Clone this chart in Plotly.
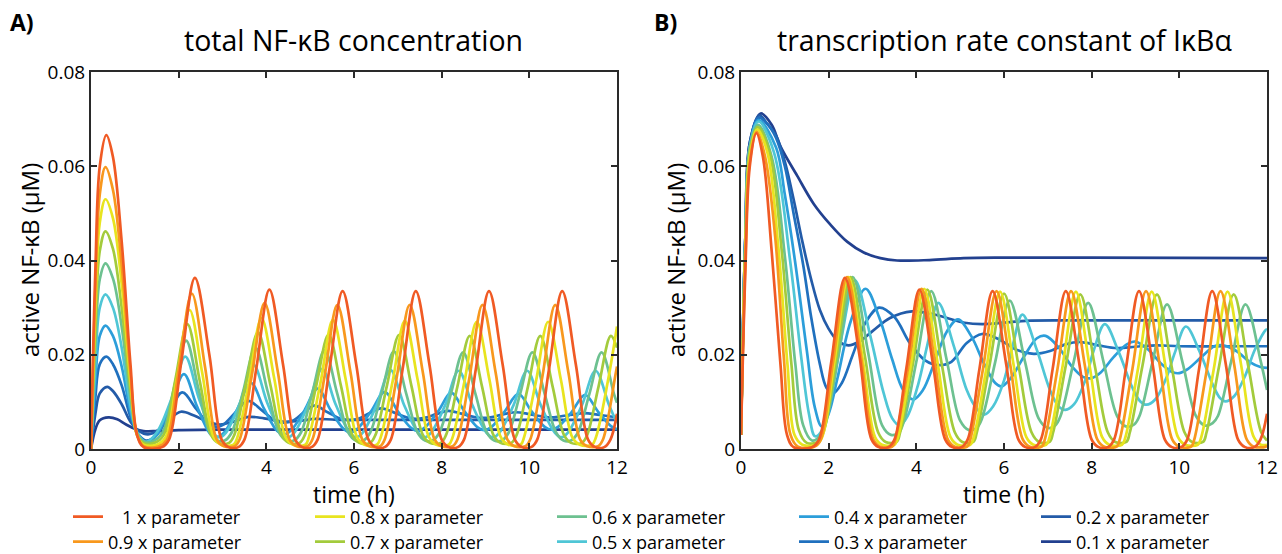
import plotly.graph_objects as go

# ---------------- legend / series definitions ----------------
param_labels = ["\u00a0\u00a0\u00a01 x parameter", "0.9 x parameter", "0.8 x parameter", "0.7 x parameter",
                "0.6 x parameter", "0.5 x parameter", "0.4 x parameter", "0.3 x parameter",
                "0.2 x parameter", "0.1 x parameter"]
param_colors = ["#F05A24", "#F8981D", "#E8E41F", "#A3CB3C", "#6DC190", "#4FC6D6",
                "#2C9EDA", "#2070BE", "#235BA8", "#22408F"]
legend_rows = ["legend", "legend2", "legend", "legend2", "legend", "legend2", "legend", "legend2", "legend", "legend2"]
legend_ranks = [1, 1, 2, 2, 3, 3, 4, 4, 5, 5]

# ---------------- Panel A: total NF-kB concentration ----------------
tA_10 = [0, 0.1, 0.2, 0.35, 0.5, 0.7, 0.9, 1.05, 1.2, 1.62,
         1.78, 2.06, 2.37, 2.7, 2.98, 3.14, 3.36,
         3.5, 3.77, 4.07, 4.38, 4.66, 4.82, 5.03,
         5.17, 5.44, 5.74, 6.05, 6.33, 6.49, 6.7,
         6.84, 7.11, 7.41, 7.72, 8.0, 8.16, 8.37,
         8.51, 8.78, 9.08, 9.39, 9.67, 9.83, 10.04,
         10.18, 10.45, 10.75, 11.06, 11.34, 11.5, 11.71,
         11.85, 12.0]
yA_10 = [0, 0.038, 0.060, 0.0666, 0.062, 0.044, 0.018, 0.003, 0.0004, 0.0004,
         0.002, 0.0185, 0.0363, 0.020, 0.002, 0.0004, 0.0004,
         0.002, 0.017, 0.0338, 0.018, 0.002, 0.0004, 0.0004,
         0.002, 0.017, 0.0335, 0.018, 0.002, 0.0004, 0.0004,
         0.002, 0.017, 0.0335, 0.018, 0.002, 0.0004, 0.0004,
         0.002, 0.017, 0.0335, 0.018, 0.002, 0.0004, 0.0004,
         0.002, 0.017, 0.0335, 0.018, 0.002, 0.0004, 0.0004,
         0.002, 0.0075]

tA_09 = [0, 0.1, 0.2, 0.33, 0.5, 0.7, 0.9, 1.05, 1.2, 1.55,
         1.73, 2.0, 2.30, 2.6, 2.87, 3.03, 3.28,
         3.39, 3.67, 3.96, 4.26, 4.53, 4.69, 4.94,
         5.05, 5.33, 5.62, 5.92, 6.19, 6.35, 6.6,
         6.7, 6.98, 7.27, 7.57, 7.84, 8.0, 8.25,
         8.36, 8.64, 8.93, 9.23, 9.5, 9.66, 9.91,
         10.02, 10.3, 10.59, 10.89, 11.16, 11.32, 11.57,
         11.68, 11.96, 12.0]
yA_09 = [0, 0.034, 0.054, 0.0598, 0.055, 0.039, 0.016, 0.003, 0.0006, 0.0006,
         0.002, 0.0168, 0.033, 0.0175, 0.002, 0.0006, 0.0006,
         0.002, 0.0157, 0.031, 0.0165, 0.002, 0.0006, 0.0006,
         0.002, 0.0155, 0.0306, 0.0163, 0.002, 0.0006, 0.0006,
         0.002, 0.0155, 0.0306, 0.0163, 0.002, 0.0006, 0.0006,
         0.002, 0.0155, 0.0306, 0.0163, 0.002, 0.0006, 0.0006,
         0.002, 0.0155, 0.0306, 0.0163, 0.002, 0.0006, 0.0006,
         0.002, 0.0155, 0.0175]

tA_08 = [0, 0.1, 0.2, 0.33, 0.5, 0.7, 0.9, 1.05, 1.2, 1.5,
         1.7, 1.97, 2.25, 2.54, 2.8, 2.97, 3.25,
         3.34, 3.61, 3.89, 4.18, 4.44, 4.61, 4.89,
         4.97, 5.24, 5.52, 5.81, 6.07, 6.24, 6.52,
         6.61, 6.88, 7.16, 7.45, 7.71, 7.88, 8.16,
         8.25, 8.52, 8.8, 9.09, 9.35, 9.52, 9.8,
         9.88, 10.15, 10.43, 10.72, 10.98, 11.15, 11.43,
         11.52, 11.79, 12.0]
yA_08 = [0, 0.030, 0.048, 0.053, 0.049, 0.035, 0.0145, 0.003, 0.0009, 0.0009,
         0.0025, 0.0155, 0.0295, 0.016, 0.0025, 0.0009, 0.0009,
         0.0025, 0.0145, 0.0278, 0.015, 0.0025, 0.0009, 0.0009,
         0.0025, 0.0143, 0.0274, 0.0148, 0.0025, 0.0009, 0.0009,
         0.0025, 0.0143, 0.0272, 0.0148, 0.0025, 0.0009, 0.0009,
         0.0025, 0.0143, 0.027, 0.0147, 0.0025, 0.0009, 0.0009,
         0.0025, 0.0143, 0.027, 0.0147, 0.0025, 0.0009, 0.0009,
         0.0025, 0.0143, 0.026]

tA_07 = [0, 0.1, 0.2, 0.33, 0.5, 0.7, 0.9, 1.05, 1.2, 1.45,
         1.66, 1.92, 2.2, 2.48, 2.74, 2.9, 3.15,
         3.27, 3.53, 3.81, 4.09, 4.35, 4.51, 4.76,
         4.88, 5.14, 5.42, 5.7, 5.96, 6.12, 6.37,
         6.49, 6.75, 7.03, 7.31, 7.57, 7.73, 7.98,
         8.1, 8.36, 8.64, 8.92, 9.18, 9.34, 9.59,
         9.71, 9.97, 10.25, 10.53, 10.79, 10.95, 11.2,
         11.32, 11.58, 11.86, 12.0]
yA_07 = [0, 0.026, 0.042, 0.0462, 0.0425, 0.030, 0.0127, 0.003, 0.0013, 0.0013,
         0.003, 0.0145, 0.0265, 0.0145, 0.003, 0.0013, 0.0013,
         0.003, 0.0137, 0.0248, 0.0137, 0.003, 0.0013, 0.0013,
         0.003, 0.0135, 0.0243, 0.0135, 0.003, 0.0013, 0.0013,
         0.003, 0.0134, 0.0242, 0.0134, 0.003, 0.0013, 0.0013,
         0.003, 0.0133, 0.024, 0.0133, 0.003, 0.0013, 0.0013,
         0.003, 0.0133, 0.024, 0.0133, 0.003, 0.0013, 0.0013,
         0.003, 0.0133, 0.024, 0.0215]

tA_06 = [0, 0.1, 0.2, 0.33, 0.5, 0.7, 0.9, 1.05, 1.2, 1.4,
         1.63, 1.89, 2.17, 2.45, 2.71, 2.88, 3.05,
         3.21, 3.47, 3.75, 4.03, 4.29, 4.46, 4.63,
         4.79, 5.05, 5.33, 5.61, 5.87, 6.04, 6.21,
         6.37, 6.63, 6.91, 7.19, 7.45, 7.62, 7.79,
         7.95, 8.21, 8.49, 8.77, 9.03, 9.2, 9.37,
         9.53, 9.79, 10.07, 10.35, 10.61, 10.78, 10.95,
         11.11, 11.37, 11.65, 11.93, 12.0]
yA_06 = [0, 0.022, 0.036, 0.0394, 0.0362, 0.026, 0.011, 0.0035, 0.0016, 0.0016,
         0.0035, 0.0128, 0.023, 0.0128, 0.0035, 0.0018, 0.0018,
         0.0035, 0.0122, 0.0215, 0.0122, 0.0035, 0.0018, 0.0018,
         0.0035, 0.012, 0.021, 0.012, 0.0035, 0.0018, 0.0018,
         0.0035, 0.0118, 0.0207, 0.0118, 0.0035, 0.0018, 0.0018,
         0.0035, 0.0117, 0.0205, 0.0117, 0.0035, 0.0018, 0.0018,
         0.0035, 0.0117, 0.0205, 0.0117, 0.0035, 0.0018, 0.0018,
         0.0035, 0.0117, 0.0205, 0.0117, 0.0098]

tA_05 = [0, 0.1, 0.2, 0.33, 0.5, 0.7, 0.9, 1.05, 1.25,
         1.5, 1.83, 2.15, 2.47, 2.78, 2.93,
         3.08, 3.4, 3.71, 4.02, 4.34, 4.49,
         4.64, 4.96, 5.27, 5.58, 5.9, 6.05,
         6.2, 6.52, 6.83, 7.14, 7.46, 7.61,
         7.76, 8.08, 8.39, 8.7, 9.02, 9.17,
         9.32, 9.64, 9.95, 10.26, 10.58, 10.73,
         10.88, 11.2, 11.51, 11.82, 12.0]
yA_05 = [0, 0.018, 0.030, 0.0328, 0.030, 0.0215, 0.0093, 0.0035, 0.0015,
         0.0035, 0.0105, 0.0196, 0.0105, 0.0035, 0.0025,
         0.0035, 0.0098, 0.0178, 0.0098, 0.0035, 0.0025,
         0.0035, 0.0095, 0.017, 0.0095, 0.0035, 0.0025,
         0.0035, 0.0094, 0.0168, 0.0094, 0.0035, 0.0025,
         0.0035, 0.0093, 0.0166, 0.0093, 0.0035, 0.0025,
         0.0035, 0.0093, 0.0166, 0.0093, 0.0035, 0.0025,
         0.0035, 0.0093, 0.0166, 0.0093, 0.0055]

tA_04 = [0, 0.1, 0.2, 0.33, 0.5, 0.7, 0.9, 1.05, 1.25,
         1.5, 1.8, 2.12, 2.42, 2.72, 2.88,
         3.04, 3.34, 3.65, 3.95, 4.25, 4.41,
         4.57, 4.87, 5.17, 5.47, 5.77, 5.93,
         6.09, 6.39, 6.7, 7.0, 7.3, 7.46,
         7.62, 7.92, 8.22, 8.52, 8.82, 8.98,
         9.14, 9.44, 9.75, 10.05, 10.35, 10.51,
         10.67, 10.97, 11.27, 11.57, 11.87, 12.0]
yA_04 = [0, 0.0145, 0.024, 0.0262, 0.024, 0.0175, 0.008, 0.0035, 0.0012,
         0.003, 0.009, 0.0159, 0.009, 0.0032, 0.0025,
         0.0035, 0.0085, 0.014, 0.0085, 0.0038, 0.0031,
         0.004, 0.0082, 0.0128, 0.0082, 0.0042, 0.0035,
         0.0044, 0.008, 0.0121, 0.008, 0.0045, 0.0038,
         0.0046, 0.008, 0.0119, 0.008, 0.0046, 0.004,
         0.0047, 0.008, 0.0117, 0.008, 0.0047, 0.0041,
         0.0048, 0.0079, 0.0115, 0.0079, 0.0048, 0.0042]

tA_03 = [0, 0.1, 0.2, 0.35, 0.5, 0.7, 0.9, 1.05, 1.25, 1.5,
         1.78, 2.08, 2.4, 2.7, 2.88, 3.05, 3.3, 3.58, 3.9, 4.2,
         4.4, 4.6, 4.85, 5.1, 5.4, 5.7, 5.9, 6.1, 6.35, 6.62,
         6.95, 7.25, 7.42, 7.6, 7.88, 8.15, 8.45, 8.75, 8.95, 9.15,
         9.42, 9.7, 10.0, 10.3, 10.5, 10.7, 10.98, 11.25, 11.55, 11.85,
         12.0]
yA_03 = [0, 0.011, 0.018, 0.0196, 0.018, 0.0135, 0.0068, 0.0035, 0.0018, 0.003,
         0.0075, 0.012, 0.0085, 0.0052, 0.0047, 0.0054, 0.0078, 0.0102, 0.0082, 0.006,
         0.0056, 0.006, 0.0077, 0.0092, 0.0078, 0.0064, 0.0061, 0.0064, 0.0076, 0.0086,
         0.0076, 0.0066, 0.0064, 0.0066, 0.0074, 0.0081, 0.0075, 0.0068, 0.0066, 0.0068,
         0.0074, 0.0078, 0.0074, 0.0069, 0.0067, 0.0069, 0.0073, 0.0076, 0.0073, 0.0069,
         0.0068]

tA_02 = [0, 0.1, 0.2, 0.37, 0.5, 0.7, 0.9, 1.1, 1.3, 1.55, 1.8, 2.05, 2.35,
         2.7, 2.95, 3.25, 3.6, 3.95, 4.4, 4.8, 5.1, 5.6, 6.5, 8, 10, 12]
yA_02 = [0, 0.0075, 0.0118, 0.0132, 0.0123, 0.0095, 0.0058, 0.0038, 0.0031, 0.0041, 0.0064, 0.0079, 0.0071,
         0.0056, 0.0052, 0.0058, 0.0068, 0.0065, 0.0058, 0.006, 0.0064, 0.0062, 0.0062, 0.0062, 0.0062, 0.0062]

tA_01 = [0, 0.1, 0.2, 0.4, 0.6, 0.8, 1.0, 1.2, 1.5, 2.0, 3.0, 6.0, 9.0, 12.0]
yA_01 = [0, 0.0042, 0.0061, 0.0067, 0.0063, 0.0052, 0.0043, 0.0038, 0.0038, 0.004, 0.0041, 0.0041, 0.0041, 0.0041]

# ---------------- Panel B: transcription rate constant of IkBa ----------------
tB_10 = tA_10
yB_10 = [0.003, 0.038, 0.060, 0.067, 0.062, 0.042, 0.018, 0.003, 0.0004, 0.0004,
         0.002, 0.0185, 0.0363, 0.020, 0.002, 0.0004, 0.0004,
         0.002, 0.017, 0.0338, 0.018, 0.002, 0.0004, 0.0004,
         0.002, 0.017, 0.0335, 0.018, 0.002, 0.0004, 0.0004,
         0.002, 0.017, 0.0335, 0.018, 0.002, 0.0004, 0.0004,
         0.002, 0.017, 0.0335, 0.018, 0.002, 0.0004, 0.0004,
         0.002, 0.017, 0.0335, 0.018, 0.002, 0.0004, 0.0004,
         0.002, 0.0075]

tB_09 = [0, 0.1, 0.2, 0.36, 0.55, 0.78, 0.98, 1.13, 1.3, 1.68,
         1.82, 2.1, 2.42, 2.74, 3.02, 3.18, 3.45,
         3.52, 3.81, 4.12, 4.43, 4.72, 4.88, 5.16,
         5.23, 5.52, 5.83, 6.14, 6.43, 6.59, 6.86,
         6.93, 7.22, 7.53, 7.84, 8.13, 8.29, 8.57,
         8.64, 8.93, 9.24, 9.55, 9.84, 10.0, 10.27,
         10.34, 10.63, 10.94, 11.25, 11.54, 11.7, 11.97,
         12.0]
yB_09 = [0.003, 0.040, 0.061, 0.0673, 0.062, 0.045, 0.019, 0.003, 0.0005, 0.0005,
         0.002, 0.0185, 0.0365, 0.0195, 0.002, 0.0005, 0.0005,
         0.002, 0.017, 0.034, 0.018, 0.002, 0.0005, 0.0005,
         0.002, 0.017, 0.0335, 0.018, 0.002, 0.0005, 0.0005,
         0.002, 0.017, 0.0335, 0.018, 0.002, 0.0005, 0.0005,
         0.002, 0.017, 0.0335, 0.018, 0.002, 0.0005, 0.0005,
         0.002, 0.017, 0.0335, 0.018, 0.002, 0.0005, 0.0005,
         0.0008]

tB_08 = [0, 0.1, 0.2, 0.37, 0.6, 0.85, 1.06, 1.22, 1.4, 1.72,
         1.85, 2.13, 2.45, 2.77, 3.06, 3.22, 3.5,
         3.58, 3.87, 4.18, 4.49, 4.78, 4.94, 5.23,
         5.31, 5.6, 5.91, 6.22, 6.51, 6.67, 6.96,
         7.04, 7.33, 7.64, 7.95, 8.24, 8.4, 8.69,
         8.77, 9.06, 9.37, 9.68, 9.97, 10.13, 10.42,
         10.5, 10.79, 11.1, 11.41, 11.7, 11.86, 12.0]
yB_08 = [0.003, 0.042, 0.062, 0.0678, 0.063, 0.043, 0.018, 0.003, 0.0009, 0.0009,
         0.0025, 0.0185, 0.0365, 0.0195, 0.0025, 0.0009, 0.0009,
         0.0025, 0.0175, 0.034, 0.018, 0.0025, 0.0009, 0.0009,
         0.0025, 0.0172, 0.0334, 0.0178, 0.0025, 0.0009, 0.0009,
         0.0025, 0.0172, 0.0334, 0.0178, 0.0025, 0.0009, 0.0009,
         0.0025, 0.0172, 0.0334, 0.0178, 0.0025, 0.0009, 0.0009,
         0.0025, 0.0172, 0.0334, 0.0178, 0.0025, 0.0009, 0.0009]

tB_07 = [0, 0.1, 0.2, 0.38, 0.65, 0.93, 1.15, 1.32, 1.5, 1.75,
         1.88, 2.17, 2.5, 2.83, 3.13, 3.3, 3.55,
         3.63, 3.92, 4.25, 4.58, 4.88, 5.05, 5.3,
         5.38, 5.67, 6.0, 6.33, 6.63, 6.8, 7.04,
         7.12, 7.41, 7.74, 8.07, 8.37, 8.54, 8.79,
         8.87, 9.16, 9.49, 9.82, 10.12, 10.29, 10.54,
         10.62, 10.91, 11.24, 11.57, 11.87, 12.0]
yB_07 = [0.003, 0.043, 0.063, 0.0683, 0.063, 0.042, 0.018, 0.004, 0.0013, 0.0015,
         0.0035, 0.019, 0.0365, 0.0195, 0.0035, 0.0015, 0.0015,
         0.0035, 0.018, 0.0338, 0.018, 0.0035, 0.0015, 0.0015,
         0.0035, 0.0178, 0.033, 0.0178, 0.0035, 0.0015, 0.0015,
         0.0035, 0.0177, 0.0328, 0.0177, 0.0035, 0.0015, 0.0015,
         0.0035, 0.0177, 0.0328, 0.0177, 0.0035, 0.0015, 0.0015,
         0.0035, 0.0177, 0.0328, 0.0177, 0.0035, 0.0018]

tB_06 = [0, 0.1, 0.2, 0.39, 0.7, 1.0, 1.24, 1.42, 1.62, 1.78,
         1.92, 2.22, 2.55, 2.9, 3.22, 3.42, 3.6,
         3.72, 4.01, 4.34, 4.69, 5.0, 5.2, 5.38,
         5.5, 5.8, 6.13, 6.48, 6.79, 6.99, 7.17,
         7.29, 7.59, 7.92, 8.27, 8.58, 8.78, 8.97,
         9.09, 9.39, 9.72, 10.07, 10.38, 10.58, 10.76,
         10.88, 11.18, 11.51, 11.86, 12.0]
yB_06 = [0.003, 0.044, 0.064, 0.0688, 0.062, 0.041, 0.018, 0.005, 0.0018, 0.0025,
         0.005, 0.0195, 0.0365, 0.0205, 0.005, 0.003, 0.0035,
         0.006, 0.019, 0.0335, 0.019, 0.006, 0.004, 0.0045,
         0.0065, 0.0185, 0.0315, 0.0185, 0.0065, 0.0045, 0.005,
         0.007, 0.0185, 0.031, 0.0185, 0.007, 0.0048, 0.0052,
         0.007, 0.0185, 0.0307, 0.0185, 0.007, 0.005, 0.0055,
         0.007, 0.0185, 0.0307, 0.0185, 0.0125]

tB_05 = [0, 0.1, 0.2, 0.4, 0.75, 1.12, 1.38, 1.55, 1.69, 1.85,
         2.05, 2.3, 2.6, 2.95, 3.25, 3.45, 3.62, 3.8,
         4.05, 4.25, 4.5, 4.85, 5.15, 5.38, 5.55, 5.75,
         6.0, 6.2, 6.42, 6.75, 7.05, 7.25, 7.4, 7.6,
         7.85, 8.05, 8.3, 8.62, 8.92, 9.1, 9.25, 9.45,
         9.7, 9.9, 10.15, 10.47, 10.77, 10.93, 11.05, 11.25,
         11.5, 11.72, 11.98, 12.0]
yB_05 = [0.003, 0.044, 0.064, 0.0695, 0.063, 0.040, 0.019, 0.0075, 0.0027, 0.004,
         0.011, 0.024, 0.0358, 0.024, 0.012, 0.0065, 0.005, 0.007,
         0.014, 0.022, 0.031, 0.022, 0.0125, 0.0085, 0.0073, 0.009,
         0.0145, 0.022, 0.0285, 0.021, 0.0125, 0.009, 0.0083, 0.0095,
         0.0145, 0.021, 0.0265, 0.0205, 0.0132, 0.0102, 0.0094, 0.0105,
         0.015, 0.0205, 0.026, 0.0205, 0.0135, 0.0108, 0.0101, 0.0112,
         0.0155, 0.021, 0.0253, 0.0253]

tB_04 = [0, 0.1, 0.2, 0.4, 0.8, 1.0, 1.23, 1.5, 1.68, 1.84, 2.0, 2.2, 2.5, 2.84, 3.15,
         3.45, 3.7, 3.93, 4.15, 4.4, 4.7, 4.95, 5.25, 5.55, 5.8, 5.94, 6.15, 6.45,
         6.75, 6.95, 7.25, 7.55, 7.8, 7.98, 8.2, 8.5, 8.8, 9.0, 9.3, 9.6, 9.85,
         10.0, 10.2, 10.5, 10.8, 11.0, 11.3, 11.6, 11.85, 12.0]
yB_04 = [0.003, 0.045, 0.064, 0.0698, 0.064, 0.054, 0.040, 0.021, 0.009, 0.0048, 0.0075, 0.015, 0.027, 0.034, 0.028,
         0.019, 0.0125, 0.0105, 0.0125, 0.018, 0.025, 0.0275, 0.024, 0.018, 0.014, 0.0133, 0.015, 0.0195,
         0.0235, 0.024, 0.0215, 0.0175, 0.0153, 0.015, 0.0162, 0.0195, 0.0222, 0.0228, 0.021, 0.018, 0.0163,
         0.0161, 0.017, 0.0195, 0.0218, 0.022, 0.0208, 0.0185, 0.0174, 0.0172]

tB_03 = [0, 0.1, 0.2, 0.4, 0.6, 0.8, 1.0, 1.2, 1.42, 1.6, 1.8, 1.95, 2.1, 2.3, 2.55, 2.85,
         3.15, 3.5, 3.85, 4.2, 4.5, 4.8, 5.15, 5.5, 5.9, 6.3, 6.68, 7.05, 7.4, 7.75,
         8.15, 8.58, 9.0, 9.5, 10, 11, 12]
yB_03 = [0.003, 0.045, 0.064, 0.0703, 0.069, 0.066, 0.060, 0.050, 0.039, 0.028, 0.018, 0.013, 0.0118, 0.014, 0.02, 0.027,
         0.030, 0.028, 0.0225, 0.0188, 0.0178, 0.0185, 0.0225, 0.0244, 0.0232, 0.021, 0.0202, 0.0208, 0.0222, 0.0227,
         0.022, 0.0214, 0.0217, 0.022, 0.0218, 0.0218, 0.0218]

tB_02 = [0, 0.1, 0.2, 0.42, 0.6, 0.8, 1.0, 1.2, 1.4, 1.6, 1.8, 2.0, 2.2, 2.45, 2.7, 3.0,
         3.4, 3.9, 4.3, 4.7, 5.1, 5.5, 6.0, 6.5, 7.5, 12]
yB_02 = [0.003, 0.045, 0.065, 0.0708, 0.069, 0.0665, 0.061, 0.053, 0.044, 0.036, 0.0295, 0.0255, 0.023, 0.022, 0.0228, 0.025,
         0.0278, 0.0292, 0.0288, 0.0278, 0.0268, 0.0265, 0.0268, 0.0272, 0.0273, 0.0273]

tB_01 = [0, 0.1, 0.2, 0.45, 0.7, 0.9, 1.28, 1.66, 2.04, 2.42, 2.8, 3.18, 3.56, 4.3, 5.08, 6, 8, 12]
yB_01 = [0.003, 0.045, 0.065, 0.0712, 0.0688, 0.0642, 0.058, 0.052, 0.0476, 0.044, 0.0417, 0.0405, 0.040, 0.0401,
         0.0405, 0.0406, 0.0406, 0.0405]

panelA = [(tA_10, yA_10), (tA_09, yA_09), (tA_08, yA_08), (tA_07, yA_07), (tA_06, yA_06),
          (tA_05, yA_05), (tA_04, yA_04), (tA_03, yA_03), (tA_02, yA_02), (tA_01, yA_01)]
panelB = [(tB_10, yB_10), (tB_09, yB_09), (tB_08, yB_08), (tB_07, yB_07), (tB_06, yB_06),
          (tB_05, yB_05), (tB_04, yB_04), (tB_03, yB_03), (tB_02, yB_02), (tB_01, yB_01)]

x_ticks = [0, 2, 4, 6, 8, 10, 12]
y_ticks = [0, 0.02, 0.04, 0.06, 0.08]

FONT = "Open Sans, Noto Sans, DejaVu Sans, sans-serif"
W, H = 1282, 554
LW = 2.7

fig = go.Figure()

# draw lowest parameter first so that the "1 x" curve is on top
for i in reversed(range(10)):
    t, y = panelA[i]
    fig.add_trace(go.Scatter(x=t, y=y, mode="lines", name=param_labels[i],
                             line=dict(color=param_colors[i], width=LW, shape="spline", smoothing=1.0),
                             legend=legend_rows[i], legendrank=legend_ranks[i], showlegend=True,
                             xaxis="x", yaxis="y"))
for i in reversed(range(10)):
    t, y = panelB[i]
    fig.add_trace(go.Scatter(x=t, y=y, mode="lines", name=param_labels[i],
                             line=dict(color=param_colors[i], width=LW, shape="spline", smoothing=1.0),
                             showlegend=False, xaxis="x2", yaxis="y2"))

ax_common = dict(showline=True, linewidth=2, linecolor="#2a2a2a", mirror="ticks",
                 ticks="inside", ticklen=6, tickwidth=2, tickcolor="#2a2a2a",
                 showgrid=False, zeroline=False, tickfont=dict(size=19, color="black", family=FONT))

leg_common = dict(orientation="h", x=68 / W, xanchor="left", yanchor="middle",
                  entrywidth=197, entrywidthmode="pixels", traceorder="normal",
                  font=dict(size=18, family=FONT, color="black"), bgcolor="rgba(0,0,0,0)",
                  itemwidth=30)

ydom = [(H - 449) / H, (H - 72) / H]
fig.update_layout(
    width=W, height=H,
    margin=dict(l=0, r=0, t=0, b=0, autoexpand=False),
    paper_bgcolor="white", plot_bgcolor="white",
    font=dict(family=FONT, color="black"),
    xaxis=dict(domain=[91 / W, 617 / W], range=[0, 12], tickvals=x_ticks, anchor="y", **ax_common),
    yaxis=dict(domain=ydom, range=[0, 0.08], tickvals=y_ticks, anchor="x", **ax_common),
    xaxis2=dict(domain=[741 / W, 1267 / W], range=[0, 12], tickvals=x_ticks, anchor="y2", **ax_common),
    yaxis2=dict(domain=ydom, range=[0, 0.08], tickvals=y_ticks, anchor="x2", **ax_common),
    legend=dict(y=(H - 517) / H, **leg_common),
    legend2=dict(y=(H - 542) / H, **leg_common),
    showlegend=True,
)

annots = [
    dict(text="<b>A)</b>", x=22 / W, y=(H - 22) / H, size=23),
    dict(text="<b>B)</b>", x=665 / W, y=(H - 22) / H, size=23),
    dict(text="total NF-\u03baB concentration", x=354 / W, y=(H - 40) / H, size=28.5),
    dict(text="transcription rate constant of I\u03baB\u03b1", x=1004 / W, y=(H - 40) / H, size=28.5),
    dict(text="active NF-\u03baB (\u03bcM)", x=29 / W, y=(H - 260) / H, textangle=-90, size=24),
    dict(text="active NF-\u03baB (\u03bcM)", x=675 / W, y=(H - 260) / H, textangle=-90, size=24),
    dict(text="time (h)", x=354 / W, y=(H - 494) / H, size=23),
    dict(text="time (h)", x=1004 / W, y=(H - 494) / H, size=23),
]
for a in annots:
    fig.add_annotation(xref="paper", yref="paper", showarrow=False, xanchor="center", yanchor="middle",
                       text=a["text"], x=a["x"], y=a["y"], textangle=a.get("textangle", 0),
                       font=dict(family=FONT, color="black", size=a["size"]))

fig.write_html("out.html")
